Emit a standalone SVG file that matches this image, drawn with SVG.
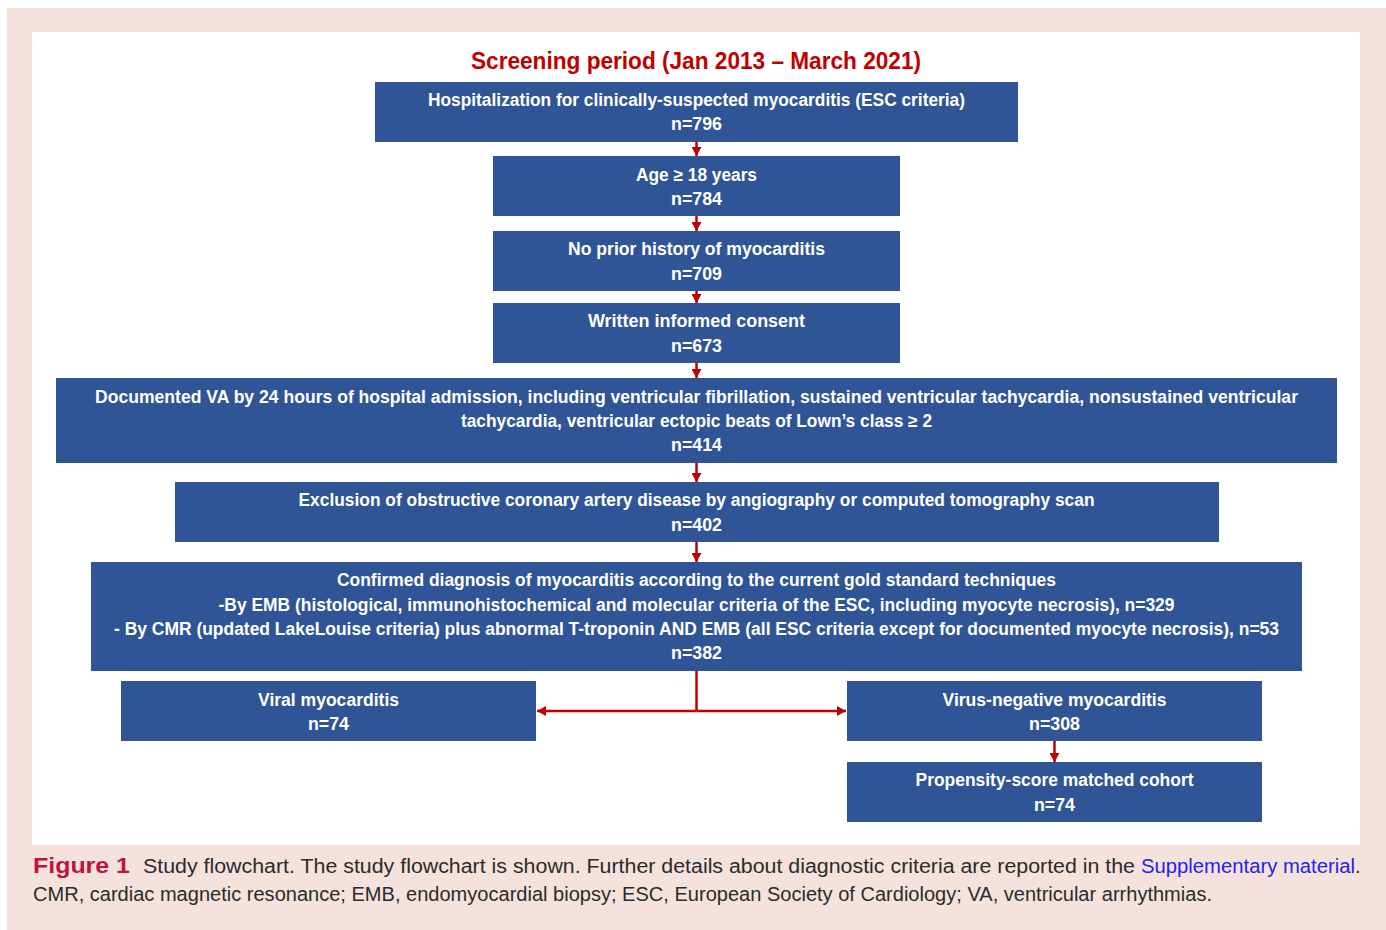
<svg xmlns="http://www.w3.org/2000/svg" width="1386" height="930" viewBox="0 0 1386 930">
<defs>
<style>
.box{fill:#2f5597}
.t{font-family:"Liberation Sans",Arial,sans-serif;font-weight:bold;font-size:17.5px;fill:#ffffff;text-anchor:middle}
.title{font-family:"Liberation Sans",Arial,sans-serif;font-weight:bold;font-size:23px;fill:#c00000;text-anchor:middle}
.cap{font-family:"Liberation Sans",Arial,sans-serif;font-size:20px;fill:#2b2b2b}
.fig{font-family:"Liberation Sans",Arial,sans-serif;font-size:22px;font-weight:bold;fill:#c0133f}
.link{fill:#2222ee}
.conn{stroke:#c00000;stroke-width:2.5;fill:none}
</style>
<marker id="ah" markerUnits="userSpaceOnUse" markerWidth="10" markerHeight="10" refX="9" refY="5" orient="auto">
<path d="M0,0 L9,5 L0,10 z" fill="#c00000"/>
</marker>
</defs>
<rect x="0" y="0" width="1386" height="930" fill="#ffffff"/>
<rect x="7" y="8" width="1379" height="922" fill="#f5e2dd"/>
<rect x="32" y="32" width="1328" height="813" fill="#ffffff"/>
<text class="title" x="696" y="69" textLength="450" lengthAdjust="spacingAndGlyphs">Screening period (Jan 2013 – March 2021)</text>

<g id="n1"><rect class="box" x="375" y="82" width="643" height="60"/>
<text class="t" x="696.5" y="106" textLength="537" lengthAdjust="spacingAndGlyphs">Hospitalization for clinically-suspected myocarditis (ESC criteria)</text>
<text class="t" x="696.5" y="130" textLength="51" lengthAdjust="spacingAndGlyphs">n=796</text></g>

<g id="n2"><rect class="box" x="493" y="156" width="407" height="60"/>
<text class="t" x="696.5" y="181" textLength="121" lengthAdjust="spacingAndGlyphs">Age ≥ 18 years</text>
<text class="t" x="696.5" y="205" textLength="51" lengthAdjust="spacingAndGlyphs">n=784</text></g>

<g id="n3"><rect class="box" x="493" y="231" width="407" height="60"/>
<text class="t" x="696.5" y="255" textLength="257" lengthAdjust="spacingAndGlyphs">No prior history of myocarditis</text>
<text class="t" x="696.5" y="280" textLength="51" lengthAdjust="spacingAndGlyphs">n=709</text></g>

<g id="n4"><rect class="box" x="493" y="303" width="407" height="60"/>
<text class="t" x="696.5" y="327" textLength="217" lengthAdjust="spacingAndGlyphs">Written informed consent</text>
<text class="t" x="696.5" y="352" textLength="51" lengthAdjust="spacingAndGlyphs">n=673</text></g>

<g id="n5"><rect class="box" x="56" y="378" width="1281" height="85"/>
<text class="t" x="696.5" y="403" textLength="1203" lengthAdjust="spacingAndGlyphs">Documented VA by 24 hours of hospital admission, including ventricular fibrillation, sustained ventricular tachycardia, nonsustained ventricular</text>
<text class="t" x="696.5" y="427" textLength="471" lengthAdjust="spacingAndGlyphs">tachycardia, ventricular ectopic beats of Lown’s class ≥ 2</text>
<text class="t" x="696.5" y="451" textLength="51" lengthAdjust="spacingAndGlyphs">n=414</text></g>

<g id="n6"><rect class="box" x="175" y="482" width="1044" height="60"/>
<text class="t" x="696.5" y="506" textLength="796" lengthAdjust="spacingAndGlyphs">Exclusion of obstructive coronary artery disease by angiography or computed tomography scan</text>
<text class="t" x="696.5" y="531" textLength="51" lengthAdjust="spacingAndGlyphs">n=402</text></g>

<g id="n7"><rect class="box" x="91" y="562" width="1211" height="109"/>
<text class="t" x="696.5" y="586" textLength="719" lengthAdjust="spacingAndGlyphs">Confirmed diagnosis of myocarditis according to the current gold standard techniques</text>
<text class="t" x="696.5" y="611" textLength="956" lengthAdjust="spacingAndGlyphs">-By EMB (histological, immunohistochemical and molecular criteria of the ESC, including myocyte necrosis), n=329</text>
<text class="t" x="696.5" y="635" textLength="1165" lengthAdjust="spacingAndGlyphs">- By CMR (updated LakeLouise criteria) plus abnormal T-troponin AND EMB (all ESC criteria except for documented myocyte necrosis), n=53</text>
<text class="t" x="696.5" y="659" textLength="51" lengthAdjust="spacingAndGlyphs">n=382</text></g>

<g id="n8"><rect class="box" x="121" y="681" width="415" height="60"/>
<text class="t" x="328.5" y="706" textLength="141" lengthAdjust="spacingAndGlyphs">Viral myocarditis</text>
<text class="t" x="328.5" y="730" textLength="41" lengthAdjust="spacingAndGlyphs">n=74</text></g>

<g id="n9"><rect class="box" x="847" y="681" width="415" height="60"/>
<text class="t" x="1054.5" y="706" textLength="224" lengthAdjust="spacingAndGlyphs">Virus-negative myocarditis</text>
<text class="t" x="1054.5" y="730" textLength="51" lengthAdjust="spacingAndGlyphs">n=308</text></g>

<g id="n10"><rect class="box" x="847" y="762" width="415" height="60"/>
<text class="t" x="1054.5" y="786" textLength="278" lengthAdjust="spacingAndGlyphs">Propensity-score matched cohort</text>
<text class="t" x="1054.5" y="811" textLength="41" lengthAdjust="spacingAndGlyphs">n=74</text></g>

<g id="connectors">
<path class="conn" d="M696.5,142 V156" marker-end="url(#ah)"/>
<path class="conn" d="M696.5,216 V231" marker-end="url(#ah)"/>
<path class="conn" d="M696.5,291 V303" marker-end="url(#ah)"/>
<path class="conn" d="M696.5,363 V378" marker-end="url(#ah)"/>
<path class="conn" d="M696.5,463 V482" marker-end="url(#ah)"/>
<path class="conn" d="M696.5,542 V562" marker-end="url(#ah)"/>
<path class="conn" d="M696.5,671 V711"/>
<path class="conn" d="M696.5,711 H537" marker-end="url(#ah)"/>
<path class="conn" d="M696.5,711 H846" marker-end="url(#ah)"/>
<path class="conn" d="M1054.5,741 V762" marker-end="url(#ah)"/>
</g>

<text class="fig" x="33" y="873" textLength="97" lengthAdjust="spacingAndGlyphs">Figure 1</text>
<text class="cap" x="143" y="873" textLength="992" lengthAdjust="spacingAndGlyphs">Study flowchart. The study flowchart is shown. Further details about diagnostic criteria are reported in the</text>
<text class="cap link" x="1141" y="873" textLength="214" lengthAdjust="spacingAndGlyphs">Supplementary material</text>
<text class="cap" x="1355" y="873">.</text>
<text class="cap" x="33" y="901" textLength="1179" lengthAdjust="spacingAndGlyphs">CMR, cardiac magnetic resonance; EMB, endomyocardial biopsy; ESC, European Society of Cardiology; VA, ventricular arrhythmias.</text>
</svg>
